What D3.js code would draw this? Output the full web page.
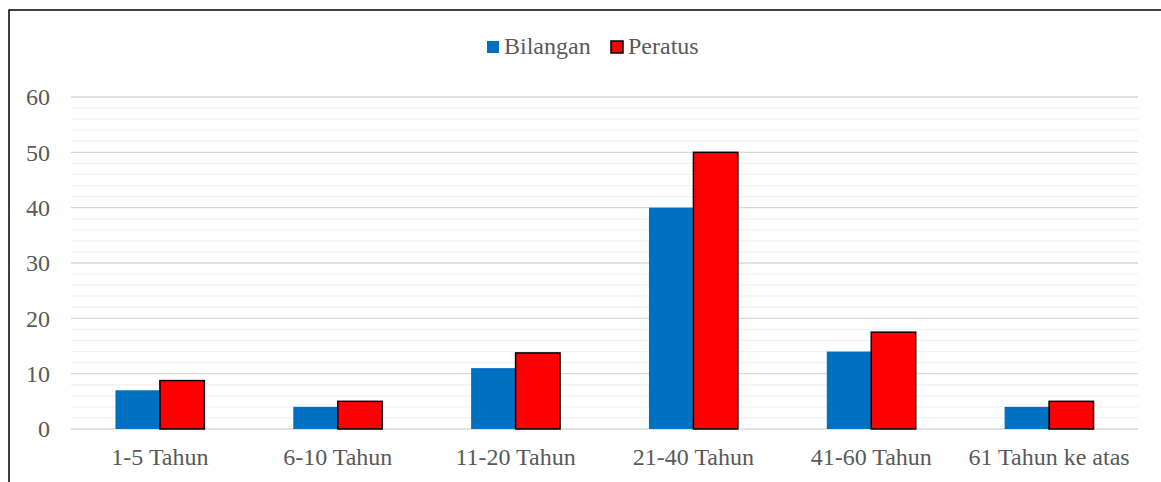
<!DOCTYPE html>
<html>
<head>
<meta charset="utf-8">
<script src="https://cdn.jsdelivr.net/npm/d3@7"></script>
<style>
  body { margin: 0; background: #fff; }
  svg { display: block; }
</style>
</head>
<body>
<div id="chart"></div>
<script>
// chart data
var categories = ["1-5 Tahun", "6-10 Tahun", "11-20 Tahun", "21-40 Tahun", "41-60 Tahun", "61 Tahun ke atas"];
var bilangan = [7, 4, 11, 40, 14, 4];
var peratus = [8.75, 5, 13.75, 50, 17.5, 5];
var seriesNames = ["Bilangan", "Peratus"];
var yTicks = [0, 10, 20, 30, 40, 50, 60];

var W = 1161, H = 482;
var margin = { top: 97, right: 23, bottom: 53, left: 71 };

function serif(sel) {
  sel.style("font-family", "'Liberation Serif'")
     .style("font-size", "24px")
     .style("fill", "#595959");
}

var svg = d3.select("#chart").append("svg")
    .attr("width", W)
    .attr("height", H);

// outer frame (cut off at right / bottom like the picture)
svg.append("rect")
    .attr("x", 9).attr("y", 10)
    .attr("width", W + 10).attr("height", H + 10)
    .attr("fill", "none")
    .attr("stroke", "#000")
    .attr("stroke-width", 1.5);

var x = d3.scaleBand()
    .domain(categories)
    .range([margin.left, W - margin.right])
    .paddingInner(0).paddingOuter(0);

var y = d3.scaleLinear()
    .domain([0, 60])
    .range([H - margin.bottom, margin.top]);

var x1 = d3.scaleBand()
    .domain(seriesNames)
    .range([0, x.bandwidth() / 2])
    .padding(0);

// minor grid
var g = svg.append("g");
g.selectAll("line.minor")
    .data(d3.range(0, 61, 2).filter(function(v) { return v % 10 !== 0; }))
    .enter().append("line")
    .attr("class", "minor")
    .attr("x1", margin.left).attr("x2", W - margin.right)
    .attr("y1", function(d) { return y(d); })
    .attr("y2", function(d) { return y(d); })
    .attr("stroke", "#f2f2f2")
    .attr("stroke-width", 1.3);

// major grid
g.selectAll("line.major")
    .data(yTicks)
    .enter().append("line")
    .attr("class", "major")
    .attr("x1", margin.left).attr("x2", W - margin.right)
    .attr("y1", function(d) { return y(d); })
    .attr("y2", function(d) { return y(d); })
    .attr("stroke", "#d9d9d9")
    .attr("stroke-width", 1.3);

// y axis labels
var yAxis = d3.axisLeft(y).tickValues(yTicks).tickSize(0).tickPadding(21);
var ya = svg.append("g")
    .attr("transform", "translate(" + margin.left + ",0)")
    .call(yAxis);
ya.select(".domain").remove();
ya.selectAll("text").call(serif);

// bars
var groups = svg.append("g").selectAll("g")
    .data(categories)
    .enter().append("g")
    .attr("transform", function(d) { return "translate(" + (x(d) + x.bandwidth() / 4) + ",0)"; });

groups.append("rect")
    .attr("x", x1("Bilangan"))
    .attr("y", function(d, i) { return y(bilangan[i]); })
    .attr("width", x1.bandwidth())
    .attr("height", function(d, i) { return y(0) - y(bilangan[i]); })
    .attr("fill", "#0070c0");

groups.append("rect")
    .attr("x", x1("Peratus"))
    .attr("y", function(d, i) { return y(peratus[i]); })
    .attr("width", x1.bandwidth())
    .attr("height", function(d, i) { return y(0) - y(peratus[i]); })
    .attr("fill", "#ff0000")
    .attr("stroke", "#000")
    .attr("stroke-width", 1.5);

// x axis labels
var xAxis = d3.axisBottom(x).tickSize(0).tickPadding(19);
var xa = svg.append("g")
    .attr("transform", "translate(0," + y(0) + ")")
    .call(xAxis);
xa.select(".domain").remove();
xa.selectAll("text").call(serif);

// legend
var legend = svg.append("g");
var legendItems = [
  { name: "Bilangan", x: 487, fill: "#0070c0", stroke: "none" },
  { name: "Peratus", x: 611, fill: "#ff0000", stroke: "#000" }
];
legendItems.forEach(function(it) {
  legend.append("rect")
      .attr("x", it.x).attr("y", 41)
      .attr("width", 12).attr("height", 12)
      .attr("fill", it.fill)
      .attr("stroke", it.stroke)
      .attr("stroke-width", 1.5);
  legend.append("text")
      .attr("x", it.x + 17).attr("y", 54)
      .text(it.name)
      .call(serif);
});
</script>
</body>
</html>
